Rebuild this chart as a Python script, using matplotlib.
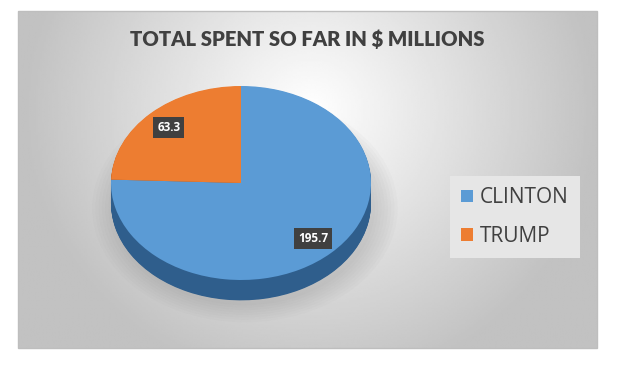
import matplotlib.pyplot as plt
import numpy as np
from matplotlib.patches import Ellipse, Patch, Rectangle

candidates = ["CLINTON", "TRUMP"]
spent = [195.7, 63.3]
top_colors = ["#5B9BD5", "#ED7D31"]
side_colors = ["#2F5E8C", "#A8561F"]
title = "TOTAL SPENT SO FAR IN $ MILLIONS"

W, H = 622, 375
fig = plt.figure(figsize=(W / 100, H / 100), dpi=100)
fig.patch.set_facecolor("white")

# chart area with radial gradient
bg = fig.add_axes([0, 0, 1, 1])
bg.set_xlim(0, W)
bg.set_ylim(H, 0)
bg.axis("off")
x0, y0, x1, y1 = 18, 11, 597, 348
xx, yy = np.meshgrid(np.linspace(x0, x1, 300), np.linspace(y0, y1, 200))
r = np.sqrt(((xx - 311) / 310) ** 2 + ((yy - 110) / 300) ** 2)
shade = np.clip(1.0 - 0.26 * r, 0.76, 1.0)
bg.imshow(shade, cmap="gray", vmin=0, vmax=1, extent=(x0, x1, y1, y0),
          aspect="auto", interpolation="bilinear")
bg.add_patch(Rectangle((x0, y0), x1 - x0, y1 - y0, fill=False,
                       edgecolor="#BEBEBE", lw=1))
bg.text(307, 39, title, ha="center", va="center", fontsize=14.6,
        fontweight="heavy", color="#404040", family="Lato")

# pie axes: 130 px per unit horizontally, 97 px vertically
cx, cy = 241, 183
ax = fig.add_axes([(cx - 195) / W, (H - cy - 145.5) / H, 390 / W, 291 / H])

depth = 0.21

# soft shadow under the pie
for k in range(8):
    ax.add_patch(Ellipse((0.03, -depth - 0.05), 2.0 + 0.05 * k, 2.0 + 0.05 * k,
                         facecolor="#808080", alpha=0.035, lw=0))

# side of the pie: stacked dark pies
for k in range(30):
    ax.pie(spent, colors=side_colors, startangle=90, counterclock=False,
           center=(0, -depth * (1 - k / 30)), radius=1,
           wedgeprops=dict(linewidth=0), frame=True)

total = sum(spent)
wedges, texts, autotexts = ax.pie(
    spent, colors=top_colors, startangle=90, counterclock=False,
    radius=1, pctdistance=0.8, frame=True,
    wedgeprops=dict(linewidth=0),
    autopct=lambda p: f"{p * total / 100:.1f}",
    textprops=dict(color="white", fontsize=8.5, fontweight="bold",
                   family="Open Sans"))
for t in autotexts:
    t.set_bbox(dict(boxstyle="square,pad=0.35", facecolor="#404040",
                    edgecolor="none"))
ax.set_aspect("auto")
ax.set_xlim(-1.5, 1.5)
ax.set_ylim(-1.5, 1.5)
ax.axis("off")

handles = [Patch(facecolor=c, edgecolor="none") for c in top_colors]
leg = fig.legend(handles, candidates, loc="center",
                 bbox_to_anchor=(515 / W, 1 - 217 / H),
                 prop=dict(family="Open Sans", size=15),
                 frameon=True, fancybox=False, framealpha=1,
                 facecolor="#E6E6E6", edgecolor="none",
                 handlelength=0.55, handleheight=0.55, handletextpad=0.35,
                 labelspacing=0.85, borderpad=0.55)
for t in leg.get_texts():
    t.set_color("#404040")

fig.savefig("out.png", dpi=100, facecolor="white")
